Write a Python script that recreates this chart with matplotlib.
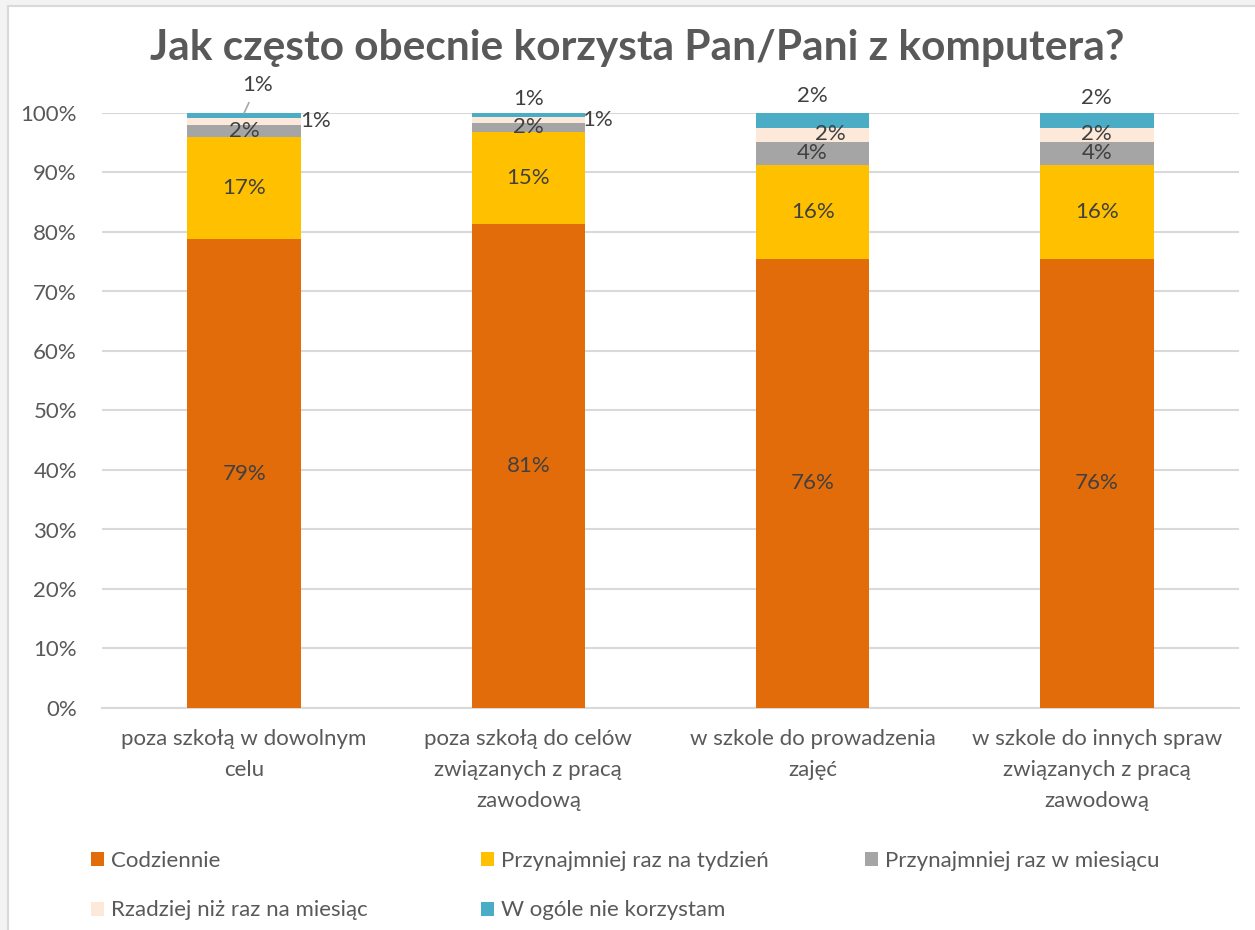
import matplotlib
matplotlib.use("Agg")
import matplotlib.pyplot as plt
from matplotlib.patches import Rectangle, Patch
import numpy as np

plt.rcParams['font.family'] = ['Lato', 'DejaVu Sans']

# data (percent)
categories = ["poza szkołą w dowolnym\ncelu",
              "poza szkołą do celów\nzwiązanych z pracą\nzawodową",
              "w szkole do prowadzenia\nzajęć",
              "w szkole do innych spraw\nzwiązanych z pracą\nzawodową"]
series_names = ["Codziennie", "Przynajmniej raz na tydzień", "Przynajmniej raz w miesiącu",
                "Rzadziej niż raz na miesiąc", "W ogóle nie korzystam"]
codziennie = [78.8, 81.4, 75.5, 75.5]
tydzien = [17.1, 15.4, 15.8, 15.8]
miesiac = [2.1, 1.6, 3.9, 3.9]
rzadziej = [1.1, 0.9, 2.3, 2.3]
wcale = [0.9, 0.7, 2.5, 2.5]
labels = [["79%", "81%", "76%", "76%"],
          ["17%", "15%", "16%", "16%"],
          ["2%", "2%", "4%", "4%"],
          ["1%", "1%", "2%", "2%"],
          ["1%", "1%", "2%", "2%"]]

colors = ["#E36C0A", "#FFC000", "#A5A5A5", "#FDE9D9", "#4BACC6"]
text_col = "#595959"
lbl_col = "#404040"
FS = 16

# label offsets in pixels (dx, dy), only for the small segments
offsets = {(3, 0): (71, -1), (4, 0): (13, -31),
           (3, 1): (69, 0), (4, 1): (0, -16),
           (3, 2): (18, -1), (4, 2): (0, -24),
           (3, 3): (0, -1), (4, 3): (0, -22)}

fig = plt.figure(figsize=(12.55, 9.3), dpi=100)
fig.patch.set_facecolor("#F3F3F3")
fig.patches.append(Rectangle((8 / 1255, -0.1), 1.2, 1.1 - 6 / 930, transform=fig.transFigure,
                             facecolor="white", edgecolor="#D9D9D9", linewidth=1.5, zorder=-10))

ax = fig.add_axes([102 / 1255, 1 - 708 / 930, (1239 - 102) / 1255, (708 - 113) / 930])
ax.set_facecolor("none")
ax.set_zorder(2)

x = np.arange(len(categories))
data = [codziennie, tydzien, miesiac, rzadziej, wcale]
bottom = np.zeros(len(categories))
for i, vals in enumerate(data):
    vals = np.array(vals)
    ax.bar(x, vals, width=0.4, bottom=bottom, color=colors[i], label=series_names[i], zorder=3)
    for j in range(len(categories)):
        yc = bottom[j] + vals[j] / 2
        dx, dy = offsets.get((i, j), (0, 0))
        if (i, j) == (4, 0):
            ax.annotate(labels[i][j], xy=(x[j], bottom[j] + vals[j]), xytext=(dx * 0.72, -dy * 0.72 - 2),
                        textcoords="offset points", ha="center", va="center", fontsize=FS, color=lbl_col,
                        arrowprops=dict(arrowstyle="-", color="#A6A6A6", lw=1.2, shrinkA=4, shrinkB=0))
        else:
            ax.annotate(labels[i][j], xy=(x[j], yc), xytext=(dx * 0.72, -dy * 0.72),
                        textcoords="offset points", ha="center", va="center", fontsize=FS, color=lbl_col,
                        zorder=5)
    bottom += vals

ax.set_xlim(-0.5, len(categories) - 0.5)
ax.set_ylim(0, 100)
ax.set_yticks(np.arange(0, 101, 10))
ax.set_yticklabels([f"{v}%" for v in range(0, 101, 10)])
ax.set_xticks(x)
ax.set_xticklabels(categories, linespacing=1.68)
ax.tick_params(axis="y", length=0, pad=18, labelsize=FS, labelcolor=text_col)
ax.tick_params(axis="x", length=0, pad=15, labelsize=FS, labelcolor=text_col)
ax.yaxis.grid(True, color="#D9D9D9", linewidth=1.5, zorder=0)
for s in ["top", "right", "left"]:
    ax.spines[s].set_visible(False)
ax.spines["bottom"].set_color("#D9D9D9")
ax.spines["bottom"].set_linewidth(1.5)

fig.text(637 / 1255, 1 - 48 / 930, "Jak często obecnie korzysta Pan/Pani z komputera?",
         ha="center", va="center", fontsize=30.5, fontweight="bold", color=text_col)

# legend, laid out as three columns
handles = [Patch(facecolor=c) for c in colors]
cols = [([0, 3], 82), ([1, 4], 472), ([2], 856)]
for idx, px in cols:
    fig.legend([handles[k] for k in idx], [series_names[k] for k in idx],
               loc="upper left", bbox_to_anchor=(px / 1255, 1 - 842 / 930),
               frameon=False, fontsize=FS, handlelength=0.6, handleheight=0.6,
               handletextpad=0.3, labelspacing=1.33, labelcolor=text_col, borderaxespad=0)

fig.savefig("out.png", dpi=100, facecolor=fig.get_facecolor())
